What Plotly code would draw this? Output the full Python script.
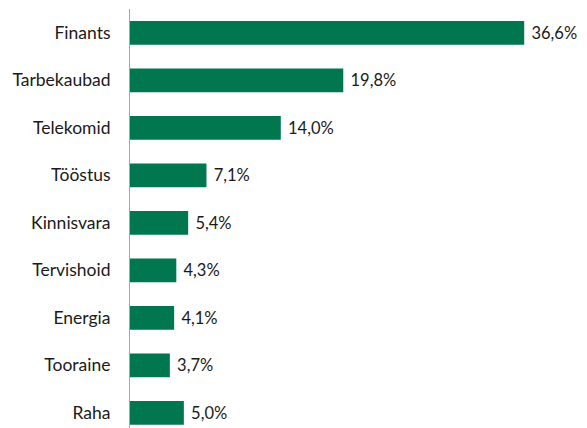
import plotly.graph_objects as go

categories = ["Finants", "Tarbekaubad", "Telekomid", "Tööstus", "Kinnisvara",
              "Tervishoid", "Energia", "Tooraine", "Raha"]
values = [36.6, 19.8, 14.0, 7.1, 5.4, 4.3, 4.1, 3.7, 5.0]
labels = [f"{v:.1f}%".replace(".", ",") for v in values]

fig = go.Figure(go.Bar(
    x=values, y=categories, orientation="h",
    marker=dict(color="#00774F", line=dict(width=0)),
    text=["\u00a0" + t for t in labels], textposition="outside",
    textfont=dict(family="Lato", size=16.5, color="#1a1a1a"),
    cliponaxis=False, width=0.5,
))

fig.update_layout(
    width=579, height=420,
    margin=dict(l=122, r=10, t=1, b=0, autoexpand=False),
    paper_bgcolor="white", plot_bgcolor="white",
    font=dict(family="Lato", size=17.5, color="#1a1a1a"),
    showlegend=False,
    xaxis=dict(range=[0, 41.5], visible=False, automargin=False),
    yaxis=dict(range=[8.32, -0.5], showline=True, linecolor="#A6A6A6", linewidth=1,
               ticks="", ticklabelstandoff=15, showgrid=False, zeroline=False,
               automargin=False),
)

fig.write_html("out.html")
